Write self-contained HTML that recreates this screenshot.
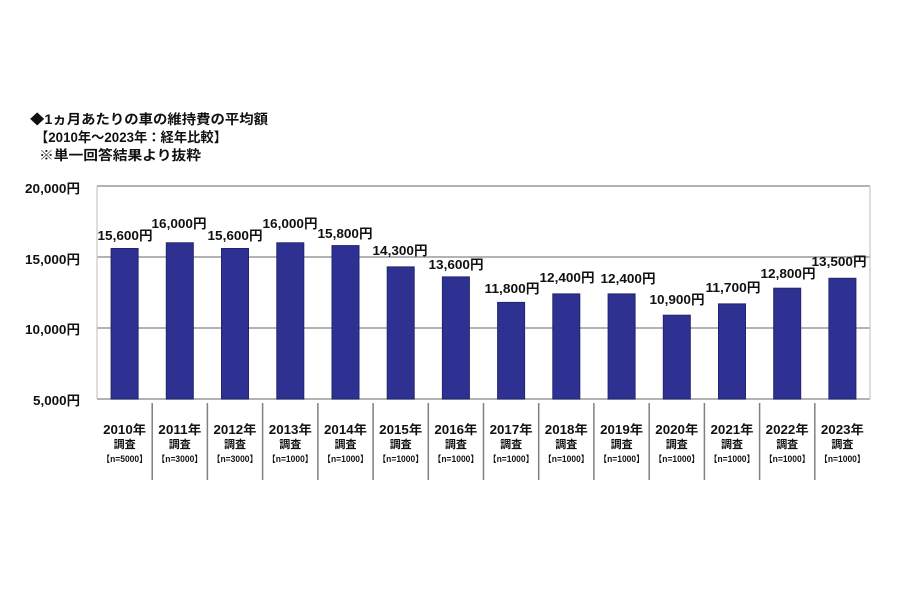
<!DOCTYPE html>
<html><head><meta charset="utf-8"><style>
html,body{margin:0;padding:0;background:#fff;}
svg{display:block;}
text{font-family:"Liberation Sans","Noto Sans CJK JP",sans-serif;font-weight:bold;fill:#111;}
</style></head><body>
<svg width="900" height="600" viewBox="0 0 900 600" xmlns="http://www.w3.org/2000/svg">
<rect width="900" height="600" fill="#fff"/>
<!-- title -->
<text x="30" y="124" font-size="13.5" textLength="238" lengthAdjust="spacingAndGlyphs">◆1ヵ月あたりの車の維持費の平均額</text>
<text x="35" y="142" font-size="13.5" textLength="192" lengthAdjust="spacingAndGlyphs">【2010年～2023年：経年比較】</text>
<text x="39" y="160" font-size="13.5" textLength="162" lengthAdjust="spacingAndGlyphs">※単一回答結果より抜粋</text>
<!-- y labels -->
<g font-size="13" text-anchor="end">
<text x="80" y="193" textLength="55" lengthAdjust="spacingAndGlyphs">20,000円</text>
<text x="80" y="264" textLength="55" lengthAdjust="spacingAndGlyphs">15,000円</text>
<text x="80" y="334" textLength="55" lengthAdjust="spacingAndGlyphs">10,000円</text>
<text x="80" y="405" textLength="47" lengthAdjust="spacingAndGlyphs">5,000円</text>
</g>
<!-- grid -->
<g stroke="#9a9a9a" stroke-width="1.5">
<line x1="97" y1="186" x2="870" y2="186"/>
<line x1="97" y1="257" x2="870" y2="257"/>
<line x1="97" y1="328" x2="870" y2="328"/>
<line x1="97" y1="399" x2="870" y2="399"/>
</g>
<g stroke="#c8c8c8" stroke-width="1.2">
<line x1="97" y1="186" x2="97" y2="399"/>
<line x1="870" y1="186" x2="870" y2="399"/>
</g>
<!-- bars -->
<g fill="#2e3192" stroke="#23246e" stroke-width="1">
<rect x="111.1" y="248.5" width="27" height="150.5"/>
<rect x="166.3" y="242.8" width="27" height="156.2"/>
<rect x="221.5" y="248.5" width="27" height="150.5"/>
<rect x="276.8" y="242.8" width="27" height="156.2"/>
<rect x="332.0" y="245.6" width="27" height="153.4"/>
<rect x="387.2" y="266.9" width="27" height="132.1"/>
<rect x="442.4" y="276.9" width="27" height="122.1"/>
<rect x="497.6" y="302.4" width="27" height="96.6"/>
<rect x="552.8" y="293.9" width="27" height="105.1"/>
<rect x="608.1" y="293.9" width="27" height="105.1"/>
<rect x="663.3" y="315.2" width="27" height="83.8"/>
<rect x="718.5" y="303.9" width="27" height="95.1"/>
<rect x="773.7" y="288.2" width="27" height="110.8"/>
<rect x="828.9" y="278.3" width="27" height="120.7"/>
</g>
<!-- value labels -->
<g font-size="13" text-anchor="middle">
<text x="125" y="240" textLength="55" lengthAdjust="spacingAndGlyphs">15,600円</text>
<text x="179" y="228" textLength="55" lengthAdjust="spacingAndGlyphs">16,000円</text>
<text x="235" y="240" textLength="55" lengthAdjust="spacingAndGlyphs">15,600円</text>
<text x="290" y="228" textLength="55" lengthAdjust="spacingAndGlyphs">16,000円</text>
<text x="345" y="238" textLength="55" lengthAdjust="spacingAndGlyphs">15,800円</text>
<text x="400" y="255" textLength="55" lengthAdjust="spacingAndGlyphs">14,300円</text>
<text x="456" y="269" textLength="55" lengthAdjust="spacingAndGlyphs">13,600円</text>
<text x="512" y="293" textLength="55" lengthAdjust="spacingAndGlyphs">11,800円</text>
<text x="567" y="282" textLength="55" lengthAdjust="spacingAndGlyphs">12,400円</text>
<text x="628" y="283" textLength="55" lengthAdjust="spacingAndGlyphs">12,400円</text>
<text x="677" y="304" textLength="55" lengthAdjust="spacingAndGlyphs">10,900円</text>
<text x="733" y="292" textLength="55" lengthAdjust="spacingAndGlyphs">11,700円</text>
<text x="788" y="278" textLength="55" lengthAdjust="spacingAndGlyphs">12,800円</text>
<text x="839" y="266" textLength="55" lengthAdjust="spacingAndGlyphs">13,500円</text>
</g>
<!-- separators -->
<g stroke="#808080" stroke-width="1.5">
<line x1="152.2" y1="403" x2="152.2" y2="480"/>
<line x1="207.4" y1="403" x2="207.4" y2="480"/>
<line x1="262.6" y1="403" x2="262.6" y2="480"/>
<line x1="317.9" y1="403" x2="317.9" y2="480"/>
<line x1="373.1" y1="403" x2="373.1" y2="480"/>
<line x1="428.3" y1="403" x2="428.3" y2="480"/>
<line x1="483.5" y1="403" x2="483.5" y2="480"/>
<line x1="538.7" y1="403" x2="538.7" y2="480"/>
<line x1="593.9" y1="403" x2="593.9" y2="480"/>
<line x1="649.2" y1="403" x2="649.2" y2="480"/>
<line x1="704.4" y1="403" x2="704.4" y2="480"/>
<line x1="759.6" y1="403" x2="759.6" y2="480"/>
<line x1="814.8" y1="403" x2="814.8" y2="480"/>
</g>
<!-- category labels -->
<g text-anchor="middle">
<g font-size="12.5">
<text x="124.6" y="434" textLength="43" lengthAdjust="spacingAndGlyphs">2010年</text>
<text x="179.8" y="434" textLength="43" lengthAdjust="spacingAndGlyphs">2011年</text>
<text x="235.0" y="434" textLength="43" lengthAdjust="spacingAndGlyphs">2012年</text>
<text x="290.3" y="434" textLength="43" lengthAdjust="spacingAndGlyphs">2013年</text>
<text x="345.5" y="434" textLength="43" lengthAdjust="spacingAndGlyphs">2014年</text>
<text x="400.7" y="434" textLength="43" lengthAdjust="spacingAndGlyphs">2015年</text>
<text x="455.9" y="434" textLength="43" lengthAdjust="spacingAndGlyphs">2016年</text>
<text x="511.1" y="434" textLength="43" lengthAdjust="spacingAndGlyphs">2017年</text>
<text x="566.3" y="434" textLength="43" lengthAdjust="spacingAndGlyphs">2018年</text>
<text x="621.6" y="434" textLength="43" lengthAdjust="spacingAndGlyphs">2019年</text>
<text x="676.8" y="434" textLength="43" lengthAdjust="spacingAndGlyphs">2020年</text>
<text x="732.0" y="434" textLength="43" lengthAdjust="spacingAndGlyphs">2021年</text>
<text x="787.2" y="434" textLength="43" lengthAdjust="spacingAndGlyphs">2022年</text>
<text x="842.4" y="434" textLength="43" lengthAdjust="spacingAndGlyphs">2023年</text>
</g>
<g font-size="11">
<text x="124.6" y="448">調査</text>
<text x="179.8" y="448">調査</text>
<text x="235.0" y="448">調査</text>
<text x="290.3" y="448">調査</text>
<text x="345.5" y="448">調査</text>
<text x="400.7" y="448">調査</text>
<text x="455.9" y="448">調査</text>
<text x="511.1" y="448">調査</text>
<text x="566.3" y="448">調査</text>
<text x="621.6" y="448">調査</text>
<text x="676.8" y="448">調査</text>
<text x="732.0" y="448">調査</text>
<text x="787.2" y="448">調査</text>
<text x="842.4" y="448">調査</text>
</g>
<g font-size="9">
<text x="124.6" y="462" textLength="46" lengthAdjust="spacingAndGlyphs">【n=5000】</text>
<text x="179.8" y="462" textLength="46" lengthAdjust="spacingAndGlyphs">【n=3000】</text>
<text x="235.0" y="462" textLength="46" lengthAdjust="spacingAndGlyphs">【n=3000】</text>
<text x="290.3" y="462" textLength="46" lengthAdjust="spacingAndGlyphs">【n=1000】</text>
<text x="345.5" y="462" textLength="46" lengthAdjust="spacingAndGlyphs">【n=1000】</text>
<text x="400.7" y="462" textLength="46" lengthAdjust="spacingAndGlyphs">【n=1000】</text>
<text x="455.9" y="462" textLength="46" lengthAdjust="spacingAndGlyphs">【n=1000】</text>
<text x="511.1" y="462" textLength="46" lengthAdjust="spacingAndGlyphs">【n=1000】</text>
<text x="566.3" y="462" textLength="46" lengthAdjust="spacingAndGlyphs">【n=1000】</text>
<text x="621.6" y="462" textLength="46" lengthAdjust="spacingAndGlyphs">【n=1000】</text>
<text x="676.8" y="462" textLength="46" lengthAdjust="spacingAndGlyphs">【n=1000】</text>
<text x="732.0" y="462" textLength="46" lengthAdjust="spacingAndGlyphs">【n=1000】</text>
<text x="787.2" y="462" textLength="46" lengthAdjust="spacingAndGlyphs">【n=1000】</text>
<text x="842.4" y="462" textLength="46" lengthAdjust="spacingAndGlyphs">【n=1000】</text>
</g>
</g>
</svg>
</body></html>
